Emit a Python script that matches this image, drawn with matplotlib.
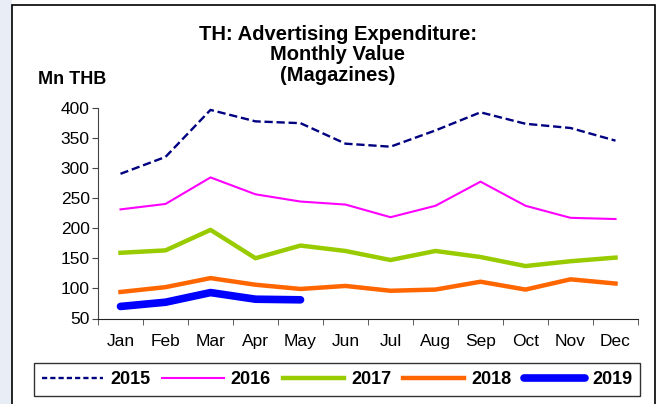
import matplotlib.pyplot as plt
from matplotlib.patches import Rectangle

plt.rcParams['font.family'] = ['Liberation Sans', 'DejaVu Sans']

months = ['Jan', 'Feb', 'Mar', 'Apr', 'May', 'Jun', 'Jul', 'Aug', 'Sep', 'Oct', 'Nov', 'Dec']
y2015 = [290, 318, 396, 377, 374, 340, 335, 362, 392, 373, 366, 345]
y2016 = [231, 240, 284, 256, 244, 239, 218, 237, 277, 237, 217, 215]
y2017 = [159, 163, 197, 150, 171, 162, 147, 162, 152, 137, 145, 151]
y2018 = [94, 102, 117, 106, 99, 104, 96, 98, 111, 98, 115, 108]
y2019 = [70, 77, 93, 82, 81]
yticks = [50, 100, 150, 200, 250, 300, 350, 400]

fig = plt.figure(figsize=(6.67, 4.04), dpi=100)

# light panel edge on the left and the black outer frame
fig.patches.append(Rectangle((0, 0), 12/667, 1, transform=fig.transFigure,
                             facecolor='#e9edf5', edgecolor='none', zorder=-3))
fig.patches.append(Rectangle((12/667, -0.01), 643/667, 1 - 5/404 + 0.01,
                             transform=fig.transFigure, facecolor='white',
                             edgecolor='black', linewidth=1.2, zorder=-2))

ax = fig.add_axes([98/667, 1 - 318.5/404, 540/667, 211/404])
ax.set_facecolor('none')
x = range(len(months))
ax.plot(x, y2015, color='#000080', lw=1.7, ls=(0, (3.5, 1.6)), label='2015')
ax.plot(x, y2016, color='#ff00ff', lw=1.5, label='2016')
ax.plot(x, y2017, color='#99cc00', lw=3.2, label='2017')
ax.plot(x, y2018, color='#ff6600', lw=3.2, label='2018')
ax.plot(range(len(y2019)), y2019, color='#0000ff', lw=5.5, solid_capstyle='round', label='2019')

ax.set_xlim(-0.5, 11.5)
ax.set_ylim(50, 400)
ax.set_yticks(yticks)
ax.set_xticks(x)
ax.set_xticklabels(months)
ax.set_xticks([i - 0.5 for i in range(13)], minor=True)
ax.tick_params(axis='x', which='major', length=0, pad=11, labelsize=12.5)
ax.tick_params(axis='x', which='minor', length=4, color='#444444')
ax.tick_params(axis='y', length=4.5, pad=1.5, labelsize=12.5, color='#444444')
for s in ['top', 'right']:
    ax.spines[s].set_visible(False)
ax.spines['left'].set_color('#444444')
ax.spines['bottom'].set_color('#222222')

fig.text(338/667, 1 - 55/404, 'TH: Advertising Expenditure:\nMonthly Value\n(Magazines)',
         ha='center', va='center', fontsize=14.5, fontweight='bold', linespacing=1.07)
fig.text(38/667, 1 - 80/404, 'Mn THB', ha='left', va='center',
         fontsize=13, fontweight='bold')

leg = fig.legend(loc='center', bbox_to_anchor=(337/667, 1 - 379.5/404), ncol=5,
                 frameon=True, fancybox=False, edgecolor='black',
                 prop={'weight': 'bold', 'size': 13}, handlelength=3.4,
                 columnspacing=0.65, handletextpad=0.4, borderpad=0.45,
                 borderaxespad=0)
leg.get_frame().set_linewidth(1.0)
# finer dashes on the 2015 key
leg.get_lines()[0].set_dashes([2.2, 1.3])

fig.savefig('out.png', dpi=100)
